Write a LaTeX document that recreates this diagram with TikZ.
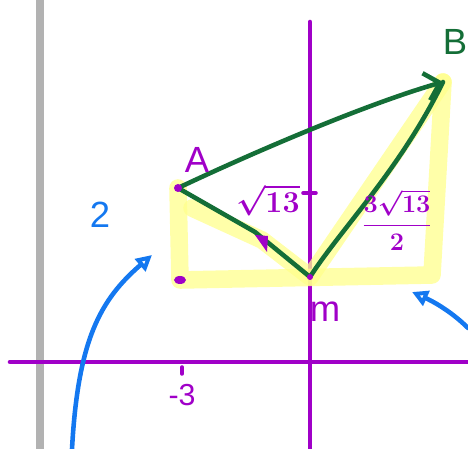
\documentclass[tikz,border=0pt]{standalone}
\usepackage{amsmath}
\usepackage{fontspec}
\setmainfont{Liberation Sans}
\usepackage{xcolor}
\usetikzlibrary{arrows.meta, positioning, calc}

\definecolor{pen}{RGB}{160,0,200}
\definecolor{ink}{RGB}{20,110,55}
\definecolor{sky}{RGB}{20,120,240}
\definecolor{marker}{RGB}{255,255,140}

\tikzset{
  penline/.style={line width=2.6pt, pen, line cap=round},
  inkline/.style={line width=2.6pt, ink, line cap=round, line join=round},
  skyline/.style={line width=2.6pt, sky, line cap=round},
  hilite/.style={line width=10pt, marker, opacity=0.75, line cap=round, line join=round},
  lbl/.style={font=\huge, pen}
}

\begin{document}
\begin{tikzpicture}[x=0.02cm, y=-0.02cm]
				\useasboundingbox (0,0) rectangle (468,449);

				% gray margin line
				\draw[line width=4pt, gray!60] (40,0) -- (40,449);

				% axes
				\draw[penline] (10,362) -- (468,362);
				\draw[penline] (310,22) -- (310,449);
				\draw[penline, line width=2pt] (303,193) -- (316,193);
				\draw[penline, line width=2pt] (182,367) -- (182,374);
				\node[lbl, font=\LARGE] (xlab) at (182,395) {-3};

				% points
				\coordinate (A) at (178,188);
				\coordinate (M) at (310,277);
				\coordinate (B) at (443,82);
				\coordinate (C) at (180,280);
				\coordinate (D) at (432,275);

				% yellow highlight
				\draw[hilite] (A) -- (C) -- (D) -- (B);
				\draw[hilite] (192,208) -- (262,240) -- (M) -- (B);

				% green sides
				\draw[inkline, -{Straight Barb[length=8pt]}] (A) .. controls (280,140) and (380,100) .. (B);
				\draw[inkline] (A) -- (255,232) -- (M);
				\draw[inkline] (M) .. controls (340,230) and (400,170) .. (B);

				% marks
				\fill[pen] (A) circle (4);
				\fill[pen] (C) ellipse (6 and 4);
				\fill[pen] (M) circle (3);
				\fill[pen] (255,235) -- (268,236) -- (267,252) -- cycle;

				% labels
				\node[lbl] (Alab) at (197,160) {A};
				\node[lbl, ink] (Blab) at (455,42) {B};
				\node[lbl] (Mlab) at (325,312) {m};
				\node[lbl, font=\LARGE\boldmath] (AMlab) at (268,200) {$\sqrt{13}$};
				\node[lbl, font=\Large\boldmath] (MBlab) at (397,220) {$\dfrac{3\sqrt{13}}{2}$};

				% blue notes
				\node[font=\huge, sky] (two) at (100,215) {2};
				\draw[skyline, -{Triangle[open, length=9pt, width=9pt]}] (72,449) .. controls (78,340) and (100,300) .. (152,255);
				\draw[skyline, -{Triangle[open, length=9pt, width=9pt]}] (468,328) .. controls (450,310) and (430,300) .. (412,292);
			\end{tikzpicture}
\end{document}
